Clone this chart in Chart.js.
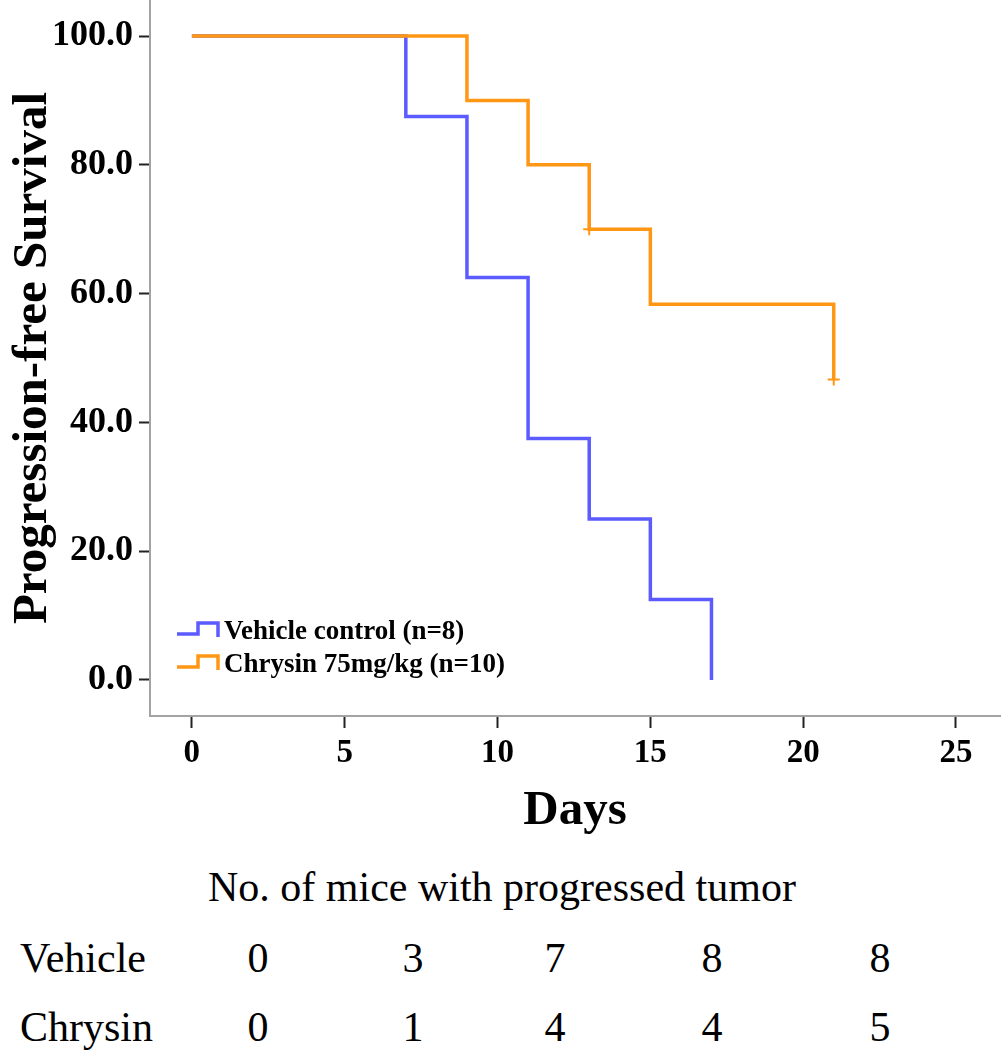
<!DOCTYPE html>
<html>
<head>
<meta charset="utf-8">
<script src="https://cdn.jsdelivr.net/npm/chart.js@4"></script>
<style>
  body { margin: 0; background: #fff; font-family: 'Liberation Serif', 'Times New Roman', serif; }
  #wrap { position: relative; width: 1003px; height: 1050px; }
  #chart { position: absolute; left: 0; top: 0; }
  .txt { position: absolute; color: #000; font-size: 42px; line-height: 1; white-space: nowrap; }
  .num { transform: translateX(-50%); }
</style>
</head>
<body>
<div id="wrap">
  <canvas id="chart" width="1003" height="850"></canvas>
  <div id="table"></div>
</div>
<script>
const vehicleDays = [0, 7, 9, 11, 13, 15, 17];
const vehicleSurv = [100, 87.5, 62.5, 37.5, 25, 12.5, 0];
const chrysinDays = [0, 9, 11, 13, 15, 21];
const chrysinSurv = [100, 90, 80, 70, 58.33, 46.67];
const censorDays = [13, 21];
const censorSurv = [70, 46.67];

const xTicks = [0, 5, 10, 15, 20, 25];
const yTicks = [0, 20, 40, 60, 80, 100];

const tableTitle = 'No. of mice with progressed tumor';
const tableRows = ['Vehicle', 'Chrysin'];
const vehicleProgressed = [0, 3, 7, 8, 8];
const chrysinProgressed = [0, 1, 4, 4, 5];

const blue = '#5b5bff';
const orange = '#ff9614';
const serif = "'Liberation Serif', 'Times New Roman', serif";

const pts = (xs, ys) => xs.map((x, i) => ({ x: x, y: ys[i] }));

// step-shaped legend drawn inside the plot, bottom-left
const stepLegend = {
  id: 'stepLegend',
  afterDatasetsDraw(chart) {
    const ctx = chart.ctx;
    const items = chart.data.datasets.filter(d => d.legendRow !== undefined);
    ctx.save();
    ctx.font = 'bold 27px ' + serif;
    ctx.textBaseline = 'middle';
    items.forEach(d => {
      const y = 632 + d.legendRow * 33;
      ctx.strokeStyle = d.borderColor;
      ctx.lineWidth = 3.5;
      ctx.beginPath();
      ctx.moveTo(177, y + 2);
      ctx.lineTo(198, y + 2);
      ctx.lineTo(198, y - 9);
      ctx.lineTo(218, y - 9);
      ctx.lineTo(218, y + 5);
      ctx.stroke();
      ctx.fillStyle = '#000';
      ctx.fillText(d.label, 224, y);
    });
    ctx.restore();
  }
};

new Chart(document.getElementById('chart'), {
  type: 'line',
  data: {
    datasets: [
      {
        label: 'Chrysin 75mg/kg (n=10)',
        legendRow: 1,
        data: pts(chrysinDays, chrysinSurv),
        borderColor: orange,
        borderWidth: 3.5,
        stepped: true,
        pointRadius: 0,
        order: 1,
      },
      {
        label: 'Vehicle control (n=8)',
        legendRow: 0,
        data: pts(vehicleDays, vehicleSurv),
        borderColor: blue,
        borderWidth: 3.5,
        stepped: true,
        pointRadius: 0,
        order: 2,
      },
      {
        label: 'censored',
        data: pts(censorDays, censorSurv),
        showLine: false,
        pointStyle: 'cross',
        pointRadius: 6,
        borderColor: orange,
        borderWidth: 2,
        order: 0,
      }
    ]
  },
  options: {
    responsive: false,
    animation: false,
    layout: { autoPadding: false, padding: { top: 0, right: 3, bottom: 0, left: 0 } },
    plugins: { legend: { display: false }, tooltip: { enabled: false } },
    scales: {
      x: {
        type: 'linear',
        min: -1.37,
        max: 26.44,
        afterFit: s => { s.height = 134; s.paddingLeft = 0; s.paddingRight = 0; },
        afterBuildTicks: s => { s.ticks = xTicks.map(v => ({ value: v })); },
        grid: { drawOnChartArea: false, tickLength: 12, tickColor: '#222', tickWidth: 2 },
        border: { color: '#a3a3a3', width: 2 },
        ticks: { color: '#000', padding: 6, font: { family: serif, size: 33, weight: 'bold' }, maxRotation: 0 },
        title: { display: true, text: 'Days', color: '#000', padding: { top: 0, bottom: 9 }, font: { family: serif, size: 49, weight: 'bold' } }
      },
      y: {
        min: -5.6,
        max: 105.6,
        afterFit: s => { s.width = 150; s.paddingTop = 0; s.paddingBottom = 0; },
        afterBuildTicks: s => { s.ticks = yTicks.map(v => ({ value: v })); },
        grid: { drawOnChartArea: false, tickLength: 11, tickColor: '#222', tickWidth: 2 },
        border: { color: '#a3a3a3', width: 2 },
        ticks: { color: '#000', padding: 6, font: { family: serif, size: 36, weight: 'bold' }, callback: v => v.toFixed(1) },
        title: { display: true, text: 'Progression-free Survival', color: '#000', padding: { top: 4, bottom: 0 }, font: { family: serif, size: 49, weight: 'bold' } }
      }
    }
  },
  plugins: [stepLegend]
});

// number-of-mice table under the chart
function buildTable() {
  const t = document.getElementById('table');
  const colX = [258, 413, 555, 712, 880];
  const rowY = [937, 1006];
  const add = (text, cls, left, top) => {
    const el = document.createElement('div');
    el.className = 'txt ' + cls;
    el.style.left = left + 'px';
    el.style.top = top + 'px';
    el.textContent = text;
    t.appendChild(el);
  };
  add(tableTitle, '', 208, 866);
  [vehicleProgressed, chrysinProgressed].forEach((vals, r) => {
    add(tableRows[r], '', 20, rowY[r]);
    vals.forEach((v, i) => add(String(v), 'num', colX[i], rowY[r]));
  });
}
buildTable();
</script>
</body>
</html>
